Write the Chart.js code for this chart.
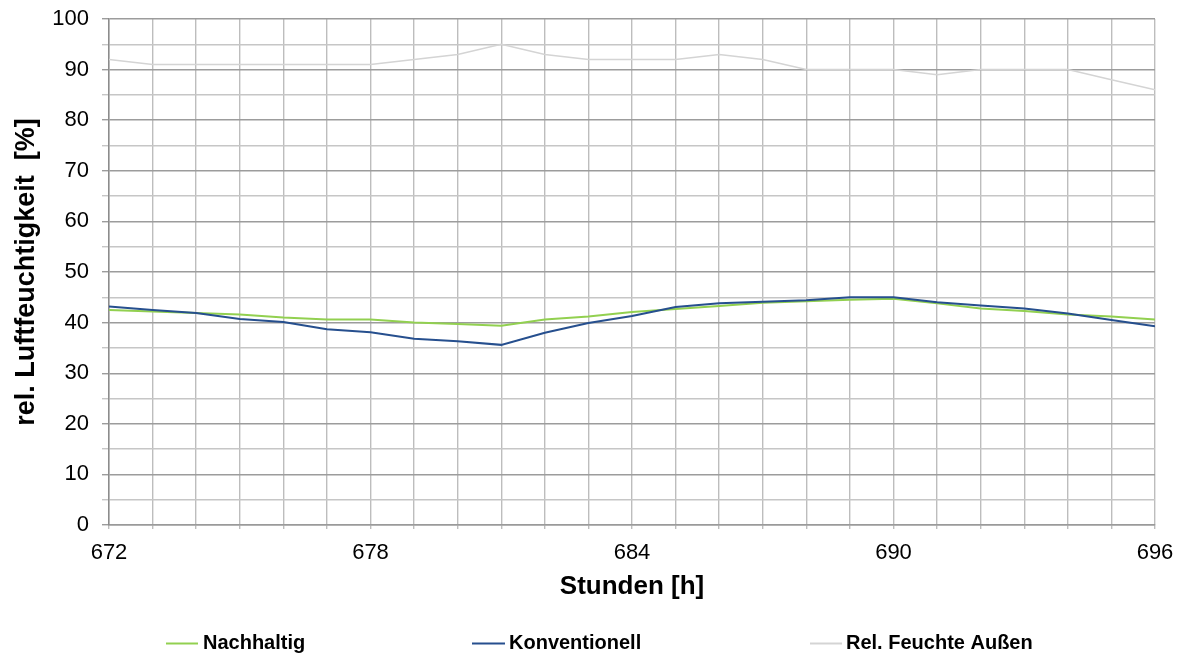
<!DOCTYPE html>
<html>
<head>
<meta charset="utf-8">
<title>rel. Luftfeuchtigkeit</title>
<script src="https://cdn.jsdelivr.net/npm/chart.js@4/dist/chart.umd.min.js"></script>
<style>
  html, body { margin: 0; padding: 0; background: #ffffff; }
  #wrap { width: 1183px; height: 658px; position: relative; }
</style>
</head>
<body>
<div id="wrap"><canvas id="chart" width="1183" height="658"></canvas></div>
<script>
// Hourly readings, hours 672 to 696
const hours = [672, 673, 674, 675, 676, 677, 678, 679, 680, 681, 682, 683, 684,
               685, 686, 687, 688, 689, 690, 691, 692, 693, 694, 695, 696];
const nachhaltig = [42.5, 42.2, 41.9, 41.6, 41.0, 40.6, 40.6, 40.0, 39.7, 39.4, 40.6, 41.2, 42.1,
                    42.7, 43.3, 43.9, 44.2, 44.5, 44.7, 43.8, 42.8, 42.3, 41.6, 41.2, 40.6];
const konventionell = [43.2, 42.5, 41.9, 40.7, 40.1, 38.7, 38.1, 36.8, 36.3, 35.6, 38.0, 39.9, 41.3,
                       43.1, 43.8, 44.1, 44.4, 45.0, 45.0, 44.0, 43.4, 42.8, 41.8, 40.5, 39.3];
const aussen = [92, 91, 91, 91, 91, 91, 91, 92, 93, 95, 93, 92, 92,
                92, 93, 92, 90, 90, 90, 89, 90, 90, 90, 88, 86];
const seriesNames = ['Nachhaltig', 'Konventionell', 'Rel. Feuchte Außen'];
const xTickLabels = [672, 678, 684, 690, 696];
const yTickLabels = [0, 10, 20, 30, 40, 50, 60, 70, 80, 90, 100];

const COLORS = ['#92d050', '#264f8e', '#d4d4d4'];
const toPoints = arr => hours.map((h, i) => ({ x: h, y: arr[i] }));

// Legend row under the axis title: short line sample followed by bold label
const legendRow = {
  id: 'legendRow',
  afterDraw(chart) {
    const ctx = chart.ctx;
    const items = [
      { lineFrom: 166, lineTo: 198, textX: 203 },
      { lineFrom: 472, lineTo: 505, textX: 509 },
      { lineFrom: 810, lineTo: 842, textX: 846 }
    ];
    const y = 643.5;
    ctx.save();
    chart.data.datasets.forEach((ds, i) => {
      const it = items[i];
      ctx.strokeStyle = ds.borderColor;
      ctx.lineWidth = 2;
      ctx.beginPath();
      ctx.moveTo(it.lineFrom, y);
      ctx.lineTo(it.lineTo, y);
      ctx.stroke();
      ctx.fillStyle = '#000000';
      ctx.font = 'bold 20px "Liberation Sans", Arial, sans-serif';
      ctx.textBaseline = 'middle';
      ctx.textAlign = 'left';
      ctx.fillText(ds.label, it.textX, y);
    });
    ctx.restore();
  }
};

new Chart(document.getElementById('chart'), {
  type: 'line',
  data: {
    datasets: [
      { label: seriesNames[0], data: toPoints(nachhaltig), borderColor: COLORS[0], borderWidth: 2, order: 1 },
      { label: seriesNames[1], data: toPoints(konventionell), borderColor: COLORS[1], borderWidth: 2, order: 0 },
      { label: seriesNames[2], data: toPoints(aussen), borderColor: COLORS[2], borderWidth: 1.5, order: 2 }
    ]
  },
  options: {
    responsive: false,
    animation: false,
    devicePixelRatio: 1,
    elements: { point: { radius: 0 }, line: { tension: 0 } },
    layout: { padding: { top: 19, right: 28, left: 0, bottom: 0 } },
    plugins: { legend: { display: false }, tooltip: { enabled: false } },
    scales: {
      x: {
        type: 'linear',
        min: hours[0],
        max: hours[hours.length - 1],
        afterFit(scale) {
          scale.height = 133;
          scale.paddingLeft = 0;
          scale.paddingRight = 0;
        },
        border: { color: '#9a9a9a', width: 1.5 },
        grid: { color: '#bdbdbd', lineWidth: 1.4, tickLength: 4 },
        ticks: {
          stepSize: 1,
          autoSkip: false,
          maxRotation: 0,
          padding: 11,
          color: '#000000',
          font: { family: '"Liberation Sans", Arial, sans-serif', size: 22 },
          callback: v => (xTickLabels.includes(v) ? String(v) : '')
        },
        title: {
          display: true,
          text: 'Stunden [h]',
          color: '#000000',
          font: { family: '"Liberation Sans", Arial, sans-serif', size: 26, weight: 'bold' },
          padding: { top: 0, bottom: 56 }
        }
      },
      y: {
        min: 0,
        max: 100,
        afterFit(scale) {
          scale.width = 109;
          scale.paddingTop = 0;
          scale.paddingBottom = 0;
        },
        border: { color: '#8c8c8c', width: 1.5 },
        grid: {
          color: c => (c.tick && c.tick.value % 10 === 0 ? '#9c9c9c' : '#c6c6c6'),
          lineWidth: 1.4,
          tickLength: 7
        },
        ticks: {
          stepSize: 5,
          autoSkip: false,
          padding: 13,
          color: '#000000',
          font: { family: '"Liberation Sans", Arial, sans-serif', size: 22 },
          callback: v => (yTickLabels.includes(v) ? String(v) : '')
        },
        title: {
          display: true,
          text: 'rel. Luftfeuchtigkeit  [%]',
          color: '#000000',
          font: { family: '"Liberation Sans", Arial, sans-serif', size: 27, weight: 'bold' },
          padding: { top: 10, bottom: 0 }
        }
      }
    }
  },
  plugins: [legendRow]
});
</script>
</body>
</html>
